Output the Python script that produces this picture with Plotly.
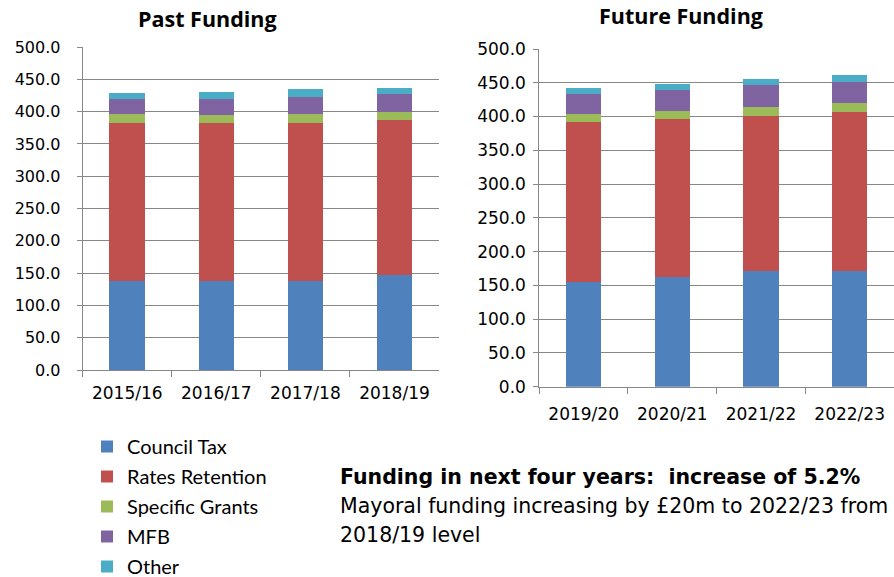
import plotly.graph_objects as go

series = ["Council Tax", "Rates Retention", "Specific Grants", "MFB", "Other"]
colors = ["#4F81BD", "#C0504D", "#9BBB59", "#8064A2", "#4BACC6"]

past_years = ["2015/16", "2016/17", "2017/18", "2018/19"]
past_council_tax = [137.6, 137.6, 137.6, 146.9]
past_rates_retention = [244.8, 244.8, 244.8, 240.2]
past_specific_grants = [13.5, 13.0, 14.6, 12.3]
past_mfb = [23.7, 24.5, 26.2, 28.5]
past_other = [9.8, 10.0, 11.3, 9.2]

future_years = ["2019/20", "2020/21", "2021/22", "2022/23"]
future_council_tax = [154.5, 162.4, 171.2, 171.2]
future_rates_retention = [236.8, 233.8, 229.9, 235.8]
future_specific_grants = [12.8, 11.9, 12.9, 13.0]
future_mfb = [29.1, 31.5, 32.1, 31.5]
future_other = [8.9, 8.9, 8.9, 9.8]

past_values = [past_council_tax, past_rates_retention, past_specific_grants, past_mfb, past_other]
future_values = [future_council_tax, future_rates_retention, future_specific_grants, future_mfb, future_other]

W, H = 894, 577
GRID = "#878787"

fig = go.Figure()
for name, col, pv, fv in zip(series, colors, past_values, future_values):
    fig.add_trace(go.Bar(x=past_years, y=pv, name=name, marker_color=col,
                         marker_line_width=0, legendgroup=name, showlegend=True,
                         xaxis="x", yaxis="y"))
    fig.add_trace(go.Bar(x=future_years, y=fv, name=name, marker_color=col,
                         marker_line_width=0, legendgroup=name, showlegend=False,
                         xaxis="x2", yaxis="y2"))

def px_x(p):
    return p / W

def px_y(p):
    return 1 - p / H

yaxis_common = dict(range=[0, 500], dtick=50, tickformat=".1f", showgrid=True,
                    gridcolor=GRID, gridwidth=1, showline=True, linecolor=GRID,
                    linewidth=1, ticks="outside", ticklen=5, tickcolor=GRID,
                    zeroline=False, automargin=False)
xaxis_common = dict(type="category", showgrid=False, showline=True, linecolor=GRID,
                    linewidth=1, ticks="outside", ticklen=6, tickcolor=GRID,
                    tickson="boundaries", automargin=False)

fig.update_layout(
    template=None,
    width=W, height=H,
    margin=dict(l=0, r=0, t=0, b=0, autoexpand=False),
    paper_bgcolor="white", plot_bgcolor="white",
    barmode="stack", bargap=0.6,
    xaxis=dict(domain=[px_x(82.7), px_x(439)], anchor="y", **xaxis_common,
               ticklabelstandoff=8, tickfont=dict(family="DejaVu Sans", size=17, color="#000")),
    yaxis=dict(domain=[px_y(370), px_y(47)], anchor="x", **yaxis_common,
               ticklabelstandoff=13, tickfont=dict(family="DejaVu Sans", size=16, color="#000")),
    xaxis2=dict(domain=[px_x(539.3), 1.0], anchor="y2", **xaxis_common,
                ticklabelstandoff=12, tickfont=dict(family="DejaVu Sans", size=17, color="#000")),
    yaxis2=dict(domain=[px_y(386.7), px_y(49)], anchor="x2", **yaxis_common,
                ticklabelstandoff=4, tickfont=dict(family="DejaVu Sans", size=17, color="#000")),
    showlegend=True,
    legend=dict(x=px_x(87), y=px_y(427), xanchor="left", yanchor="top",
                orientation="v", traceorder="grouped", tracegroupgap=1,
                font=dict(family="Lato", size=20, color="#000"),
                bgcolor="rgba(0,0,0,0)"),
    annotations=[
        dict(text="<b>Past Funding</b>", x=px_x(207.5), y=px_y(19), xref="paper", yref="paper",
             showarrow=False, xanchor="center", yanchor="middle",
             font=dict(family="Open Sans", size=21.5, color="#000")),
        dict(text="<b>Future Funding</b>", x=px_x(680.5), y=px_y(15.5), xref="paper", yref="paper",
             showarrow=False, xanchor="center", yanchor="middle",
             font=dict(family="Open Sans", size=21.5, color="#000")),
        dict(text="<b>Funding in next four years:  increase of 5.2%</b>", x=px_x(338),
             y=px_y(477), xref="paper", yref="paper", showarrow=False,
             xanchor="left", yanchor="middle", font=dict(family="DejaVu Sans", size=20.5, color="#000")),
        dict(text="Mayoral funding increasing by £20m to 2022/23 from", x=px_x(338),
             y=px_y(506), xref="paper", yref="paper", showarrow=False,
             xanchor="left", yanchor="middle", font=dict(family="DejaVu Sans", size=20.5, color="#000")),
        dict(text="2018/19 level", x=px_x(338),
             y=px_y(535), xref="paper", yref="paper", showarrow=False,
             xanchor="left", yanchor="middle", font=dict(family="DejaVu Sans", size=20.5, color="#000")),
    ],
)

fig.write_html("out.html", config={"displayModeBar": False},
               post_script="document.body.style.margin='0';document.body.style.overflow='hidden';")
